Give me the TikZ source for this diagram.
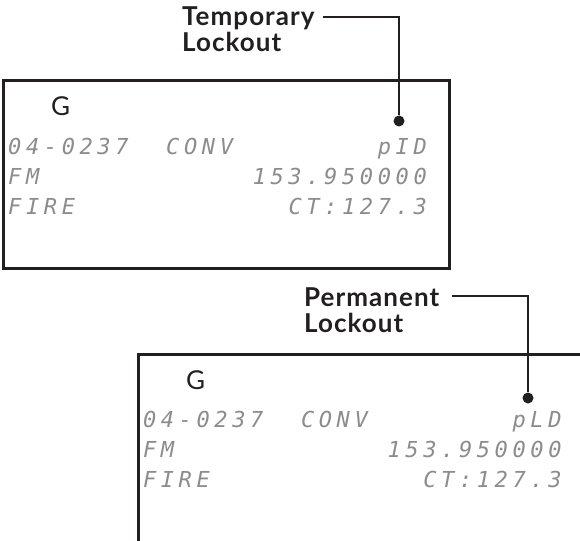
\documentclass[tikz,border=0pt]{standalone}
\usepackage{fontspec}
\setmainfont{Lato}
\newfontfamily\calloutfont[LetterSpace=4]{Lato}
\newfontfamily\lcdfont[LetterSpace=21]{DejaVu Sans Mono}
\definecolor{ink}{HTML}{231F20}
\definecolor{lcdgray}{HTML}{8C8C8C}
\tikzset{
	panel/.style={draw=ink, line width=3pt},
	lead/.style={draw=ink, line width=1.6pt},
	leaddot/.style={circle, fill=ink, inner sep=0pt, minimum size=11pt},
	callout/.style={font=\calloutfont\fontsize{26}{26}\selectfont\bfseries, text=ink, align=left, inner sep=0pt, anchor=base west},
	gmark/.style={font=\fontsize{26}{26}\selectfont, text=ink, inner sep=0pt, anchor=base west},
	lcd/.style={font=\lcdfont\itshape\fontsize{22}{22}\selectfont, text=lcdgray, inner sep=0pt},
}
\begin{document}
\begin{tikzpicture}[x=1pt, y=-1pt]
	\clip (0,0) rectangle (580,540);

	% temporary lockout display
	\node[callout] (temp) at (182,52) {Temporary\\Lockout};
	\draw[panel] (3.2,81) rectangle (449.5,268);
	\node[gmark] (g1) at (51,116) {G};
	\node[lcd, anchor=base west] (code1) at (8,154) {04-0237};
	\node[lcd, anchor=base west] (mode1) at (166,154) {CONV};
	\node[lcd, anchor=base west] (band1) at (8,184) {FM};
	\node[lcd, anchor=base west] (zone1) at (8,214) {FIRE};
	\node[lcd, anchor=base east] (lock1) at (427,154) {pID};
	\node[lcd, anchor=base east] (freq1) at (427,184) {153.950000};
	\node[lcd, anchor=base east] (tone1) at (427,214) {CT:127.3};
	\coordinate (tstart) at (323,17);
	\node[leaddot] (tdot) at (399,121) {};
	\draw[lead] (tstart) -| (tdot);

	% permanent lockout display
	\node[callout] (perm) at (304,332) {Permanent\\Lockout};
	\draw[panel] (138,545) |- (585,354.5);
	\begin{scope}[shift={(134.8,273.5)}]
		\node[gmark] (g2) at (51,116) {G};
		\node[lcd, anchor=base west] (code2) at (8,154) {04-0237};
		\node[lcd, anchor=base west] (mode2) at (166,154) {CONV};
		\node[lcd, anchor=base west] (band2) at (8,184) {FM};
		\node[lcd, anchor=base west] (zone2) at (8,214) {FIRE};
		\node[lcd, anchor=base east] (lock2) at (427,154) {pLD};
		\node[lcd, anchor=base east] (freq2) at (427,184) {153.950000};
		\node[lcd, anchor=base east] (tone2) at (427,214) {CT:127.3};
	\end{scope}
	\coordinate (pstart) at (452,296);
	\node[leaddot] (pdot) at (528,398) {};
	\draw[lead] (pstart) -| (pdot);
\end{tikzpicture}
\end{document}
